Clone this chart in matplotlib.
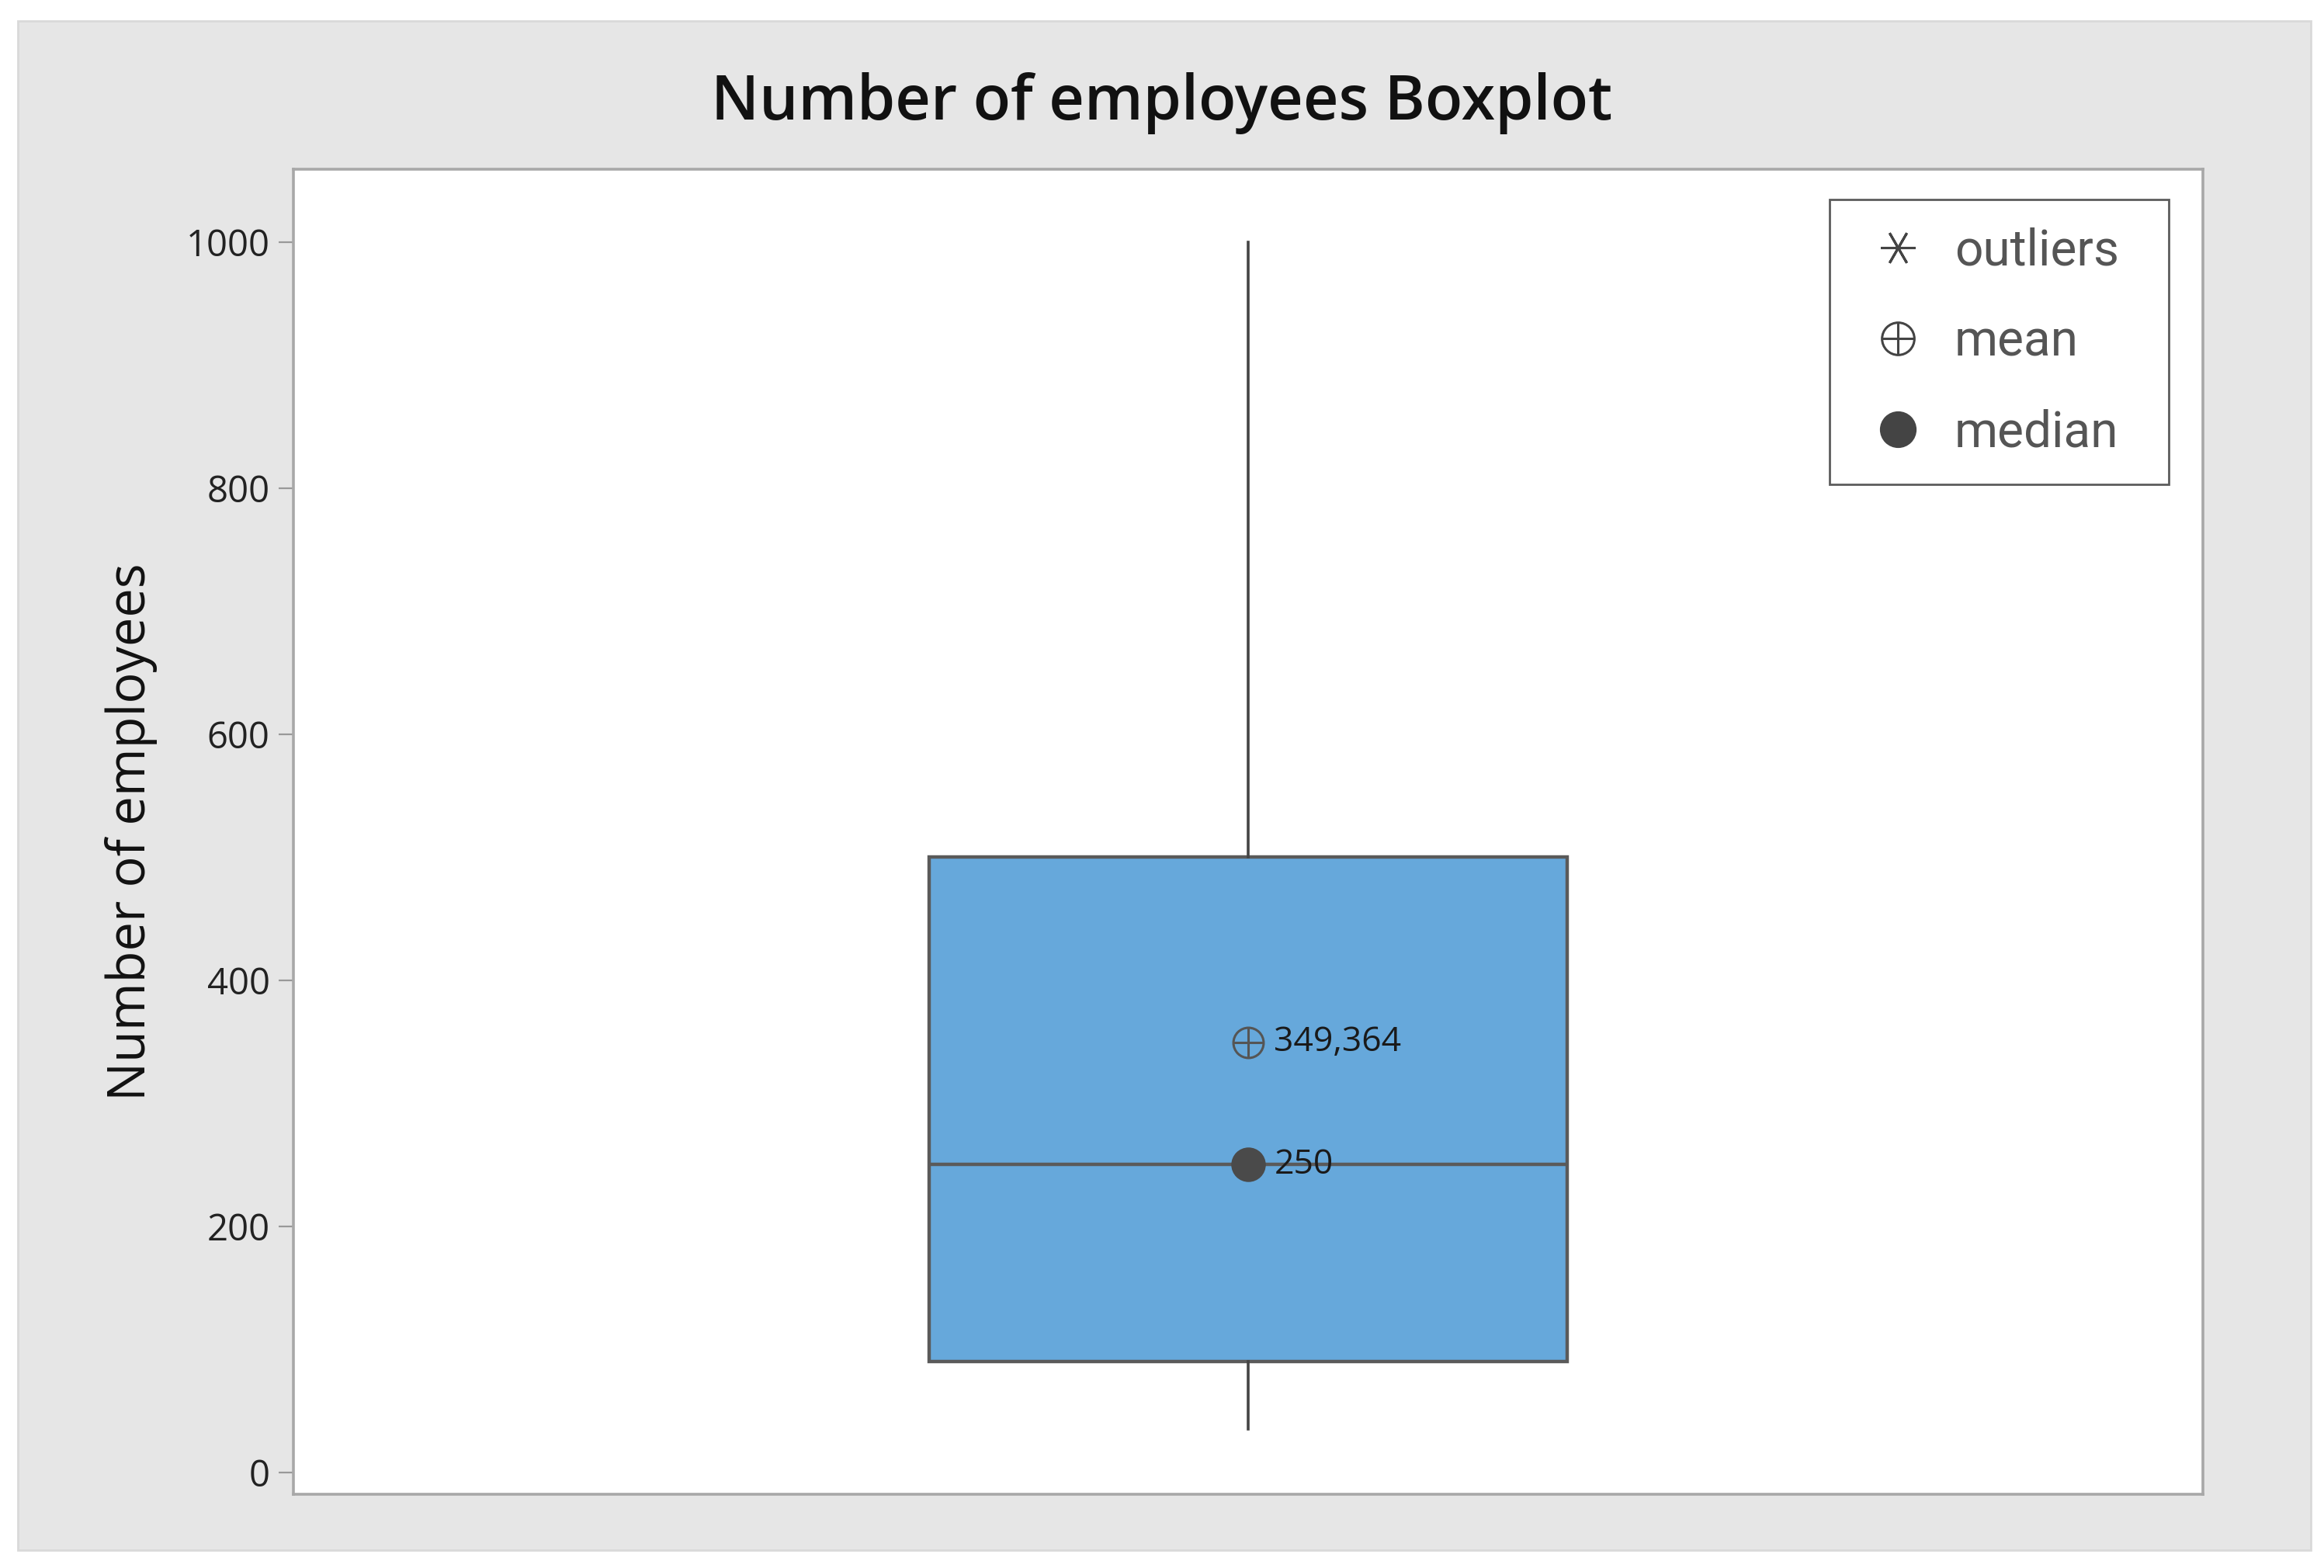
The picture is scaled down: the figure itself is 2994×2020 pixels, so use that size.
import matplotlib
import matplotlib.pyplot as plt
from matplotlib.patches import Rectangle
from matplotlib.lines import Line2D

plt.switch_backend('agg')

# box statistics
q1 = 90
median = 250
q3 = 500
whisker_low = 35
whisker_high = 1000
mean = 349.364
mean_label = '349,364'
median_label = '250'
yticks = [0, 200, 400, 600, 800, 1000]

box_color = '#66a8db'
edge_color = '#5a5a5a'
mark_color = '#4a4a4a'

plt.rcParams['font.family'] = ['Open Sans', 'DejaVu Sans']

fig = plt.figure(figsize=(14.97, 10.1), dpi=200)
fig.patch.set_facecolor('white')
# grey outer panel
fig.patches.append(Rectangle((0.0077, 0.0114), 0.9866, 0.975, transform=fig.transFigure,
                             facecolor='#e6e6e6', edgecolor='#d9d9d9', lw=1.0, zorder=-10))

ax = fig.add_axes([0.1263, 0.047, 0.8216, 0.845])
ax.set_facecolor('white')

stats = [dict(q1=q1, med=median, q3=q3, whislo=whisker_low, whishi=whisker_high,
              mean=mean, fliers=[])]
ax.bxp(stats, positions=[1], widths=0.668, patch_artist=True, showcaps=False,
       showfliers=False, showmeans=False,
       boxprops=dict(facecolor=box_color, edgecolor=edge_color, lw=1.6),
       medianprops=dict(color=edge_color, lw=1.6),
       whiskerprops=dict(color='#444444', lw=1.3))

# median and mean markers
ax.plot([1], [median], 'o', ms=15, color=mark_color, zorder=5)
ax.plot([1], [mean], 'o', ms=14, mfc='none', mec='#555555', mew=1.1, zorder=5)
ax.plot([1], [mean], '+', ms=14, mec='#555555', mew=1.1, zorder=5)
ax.annotate(median_label, (1, median), xytext=(12, 0), textcoords='offset points',
            va='center', ha='left', fontsize=16, color='#1a1a1a')
ax.annotate(mean_label, (1, mean), xytext=(12, 0), textcoords='offset points',
            va='center', ha='left', fontsize=16, color='#1a1a1a')

ax.set_xlim(0, 2)
ax.set_ylim(-18, 1059)
ax.set_xticks([])
ax.set_yticks(yticks)
ax.tick_params(axis='y', length=7, width=0.8, color='#999999', labelsize=17,
               labelcolor='#222222', pad=4)
for s in ax.spines.values():
    s.set_color('#a8a8a8')
    s.set_linewidth(1.3)

ax.set_ylabel('Number of employees', fontsize=24, color='#111111', fontweight='medium')
ax.yaxis.set_label_coords(-0.071, 0.5)
fig.text(0.5, 0.934, 'Number of employees Boxplot', ha='center', va='center',
         fontsize=28.5, fontweight='semibold', color='#111111')

# legend
h_out = Line2D([], [], ls='none', marker=(6, 2, 90), ms=16, mec='#444444', mew=1.1)
h_mean1 = Line2D([], [], ls='none', marker='o', ms=15, mfc='none', mec='#444444', mew=1.1)
h_mean2 = Line2D([], [], ls='none', marker='+', ms=15, mec='#444444', mew=1.1)
h_med = Line2D([], [], ls='none', marker='o', ms=16, color='#444444')
leg = ax.legend([h_out, (h_mean1, h_mean2), h_med], ['outliers', 'mean', 'median'],
                loc='upper left', bbox_to_anchor=(0.8045, 0.0, 0.1776, 0.977),
                mode='expand', borderaxespad=0,
                fancybox=False, frameon=True, labelspacing=0.86, handlelength=1.65,
                handletextpad=0.32, borderpad=0.55,
                prop={'family': 'Roboto', 'size': 23})
leg.get_frame().set_edgecolor('#333333')
leg.get_frame().set_linewidth(1.0)
for t in leg.get_texts():
    t.set_color('#555555')

fig.savefig('out.png', dpi=200)
